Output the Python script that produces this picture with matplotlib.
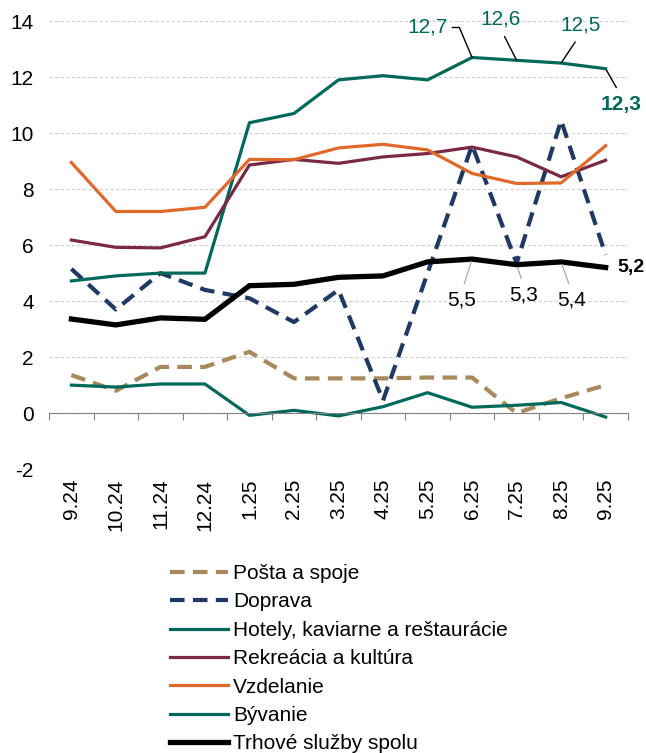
import matplotlib
matplotlib.use("Agg")
import matplotlib.pyplot as plt
import numpy as np

plt.rcParams['font.family'] = ['Liberation Sans', 'DejaVu Sans']
plt.rcParams['font.size'] = 15
plt.rcParams['axes.unicode_minus'] = False

months = ["9.24", "10.24", "11.24", "12.24", "1.25", "2.25", "3.25", "4.25",
          "5.25", "6.25", "7.25", "8.25", "9.25"]

posta = [1.36, 0.8, 1.65, 1.65, 2.19, 1.24, 1.24, 1.24, 1.27, 1.27, 0.0, 0.53, 1.0]
doprava = [5.15, 3.7, 5.0, 4.4, 4.1, 3.25, 4.4, 0.45, 5.0, 9.57, 5.35, 10.45, 5.65]
hotely = [4.72, 4.9, 5.0, 5.0, 10.37, 10.7, 11.9, 12.05, 11.9, 12.7, 12.6, 12.5, 12.3]
rekreacia = [6.18, 5.92, 5.9, 6.3, 8.86, 9.06, 8.92, 9.15, 9.27, 9.5, 9.15, 8.44, 9.03]
vzdelanie = [8.95, 7.2, 7.2, 7.35, 9.06, 9.05, 9.47, 9.6, 9.4, 8.56, 8.2, 8.22, 9.55]
byvanie = [1.0, 0.93, 1.04, 1.04, -0.08, 0.1, -0.1, 0.23, 0.73, 0.21, 0.28, 0.38, -0.14]
spolu = [3.36, 3.15, 3.4, 3.35, 4.55, 4.6, 4.85, 4.9, 5.4, 5.5, 5.3, 5.4, 5.2]

teal = '#00695a'
x = np.arange(len(months))

fig = plt.figure(figsize=(6.46, 7.53), dpi=100)
ax = fig.add_axes([0.076, 0.377, 0.896, 0.595])

ax.plot(x, posta, color='#a8885c', lw=3, dashes=(3.5, 2), label='Pošta a spoje')
ax.plot(x, doprava, color='#1f3864', lw=3, dashes=(3.5, 2), label='Doprava')
ax.plot(x, hotely, color=teal, lw=2.3, label='Hotely, kaviarne a reštaurácie')
ax.plot(x, rekreacia, color='#7a2945', lw=2.3, label='Rekreácia a kultúra')
ax.plot(x, vzdelanie, color='#e0692a', lw=2.3, label='Vzdelanie')
ax.plot(x, byvanie, color=teal, lw=2.3, label='Bývanie')
ax.plot(x, spolu, color='black', lw=3.8, label='Trhové služby spolu')

ax.set_xlim(-0.5, len(months) - 0.5)
ax.set_ylim(-2, 14)
ax.set_yticks(np.arange(-2, 15, 2))
ax.yaxis.grid(True, color='#d0d0d0', lw=0.8, ls=(0, (3, 2)))
ax.set_axisbelow(True)
ax.tick_params(axis='y', length=0, pad=11)

for s in ['top', 'right', 'left']:
    ax.spines[s].set_visible(False)
ax.spines['bottom'].set_position(('data', 0))
ax.spines['bottom'].set_color('#808080')
ax.set_xticks(np.arange(len(months) + 1) - 0.5)
ax.set_xticklabels([])
ax.tick_params(axis='x', length=5, color='#808080', direction='out')

sec = ax.secondary_xaxis('bottom')
sec.set_xticks(x)
sec.set_xticklabels(months, rotation=90)
sec.tick_params(length=0, pad=7)
sec.spines['bottom'].set_visible(False)

# labels for Hotely
i = 9
ax.annotate('12,7', xy=(x[i], hotely[i]), xytext=(-24, 30), textcoords='offset pixels',
            color=teal, ha='right', va='center',
            arrowprops=dict(arrowstyle='-', color='black', lw=1, shrinkA=1, shrinkB=0,
                            relpos=(1, 0.5),
                            connectionstyle='angle,angleA=0,angleB=113,rad=0'))
for i, (dx, dy) in zip([10, 11], [(-16, 41), (19, 38)]):
    ax.annotate(f'{hotely[i]:.1f}'.replace('.', ','), xy=(x[i], hotely[i]), xytext=(dx, dy),
                textcoords='offset pixels', color=teal, ha='center', va='center',
                arrowprops=dict(arrowstyle='-', color='black', lw=1, shrinkA=4, shrinkB=0,
                                relpos=(0.5, 0)))
i = 12
ax.annotate('12,3', xy=(x[i], hotely[i]), xytext=(15, -36), textcoords='offset pixels',
            color=teal, ha='center', va='center', fontweight='bold',
            arrowprops=dict(arrowstyle='-', color='black', lw=1, shrinkA=4, shrinkB=1,
                            relpos=(0.5, 1)))

# labels for Trhové služby spolu
for i, (dx, dy) in zip([9, 10, 11], [(-10, -41), (7, -30), (10, -38)]):
    ax.annotate(f'{spolu[i]:.1f}'.replace('.', ','), xy=(x[i], spolu[i]), xytext=(dx, dy),
                textcoords='offset pixels', color='black', ha='center', va='center',
                arrowprops=dict(arrowstyle='-', color='#b0b0b0', lw=1, shrinkA=3, shrinkB=2,
                                relpos=(0.5, 1)))
i = 12
ax.annotate('5,2', xy=(x[i], spolu[i]), xytext=(12, 0), textcoords='offset pixels',
            color='black', ha='left', va='center', fontweight='bold', fontsize=14)

fig.legend(loc='upper left', bbox_to_anchor=(0.25, 0.262), frameon=False,
           handlelength=2.8, handletextpad=0.25, labelspacing=0.45, borderaxespad=0)

fig.savefig('out.png', dpi=100)
